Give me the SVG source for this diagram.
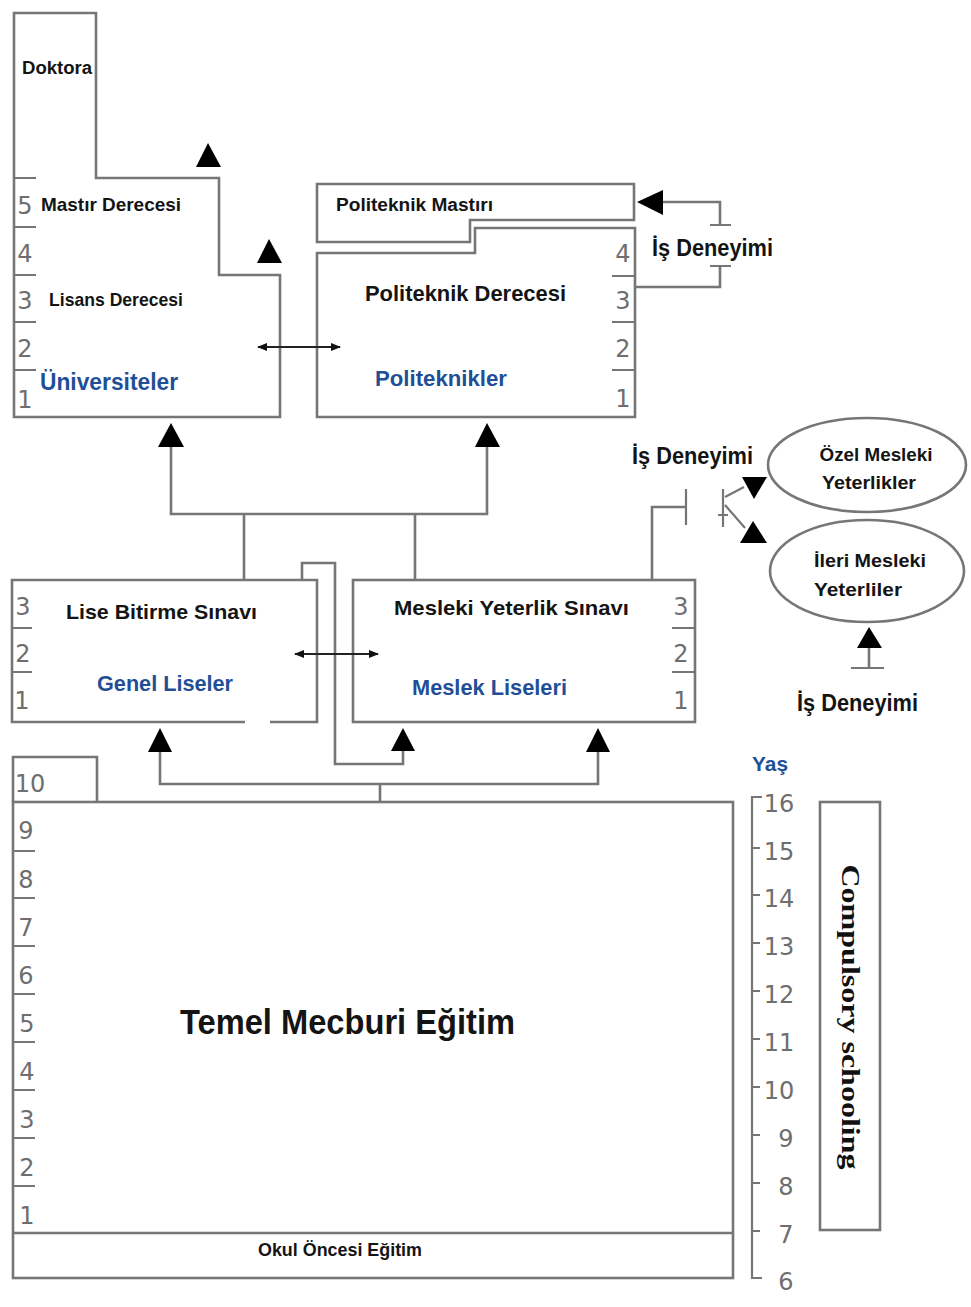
<svg xmlns="http://www.w3.org/2000/svg" width="971" height="1307" viewBox="0 0 971 1307">
<style>
.ln{fill:none;stroke:#767676;stroke-width:2.6;stroke-linejoin:miter}
.tk{fill:none;stroke:#767676;stroke-width:2.2}
.dk{fill:none;stroke:#222;stroke-width:2}
.tri{fill:#000}
.t{font-family:'Liberation Sans Narrow','Liberation Sans',Arial,sans-serif;font-weight:bold;fill:#141414}
.b{font-family:'Liberation Sans Narrow','Liberation Sans',Arial,sans-serif;font-weight:bold;fill:#1f4f96}
.n{font-family:'DejaVu Sans',Verdana,sans-serif;fill:#6e6e6e;font-size:24px;text-anchor:middle}
.s{font-family:'Liberation Serif','Times New Roman',serif;font-weight:bold;fill:#111}
</style>
<defs>
<marker id="ah" viewBox="0 0 10 10" refX="9" refY="5" markerWidth="5" markerHeight="5" orient="auto-start-reverse">
<path d="M0,1 L10,5 L0,9 Z" fill="#111"/>
</marker>
</defs>
<rect width="971" height="1307" fill="#fff"/>

<g id="universiteler">
<path class="ln" d="M14,13 H96 V178 H219 V275 H280 V417 H14 Z"/>
<path class="tk" d="M14,178 H36 M14,227 H36 M14,275 H36 M14,322 H36 M14,370 H36"/>
<text class="n" x="25" y="214">5</text>
<text class="n" x="25" y="262">4</text>
<text class="n" x="25" y="309">3</text>
<text class="n" x="25" y="357">2</text>
<text class="n" x="25" y="408">1</text>
<text class="t" x="22" y="74" font-size="18" textLength="70" lengthAdjust="spacingAndGlyphs">Doktora</text>
<text class="t" x="41" y="211" font-size="19" textLength="140" lengthAdjust="spacingAndGlyphs">Mastır Derecesi</text>
<text class="t" x="49" y="306" font-size="19" textLength="134" lengthAdjust="spacingAndGlyphs">Lisans Derecesi</text>
<text class="b" x="40" y="390" font-size="23" textLength="138" lengthAdjust="spacingAndGlyphs">Üniversiteler</text>
</g>

<g id="politeknik-mastiri">
<path class="ln" d="M317,184 H634 V220 H470 V242 H317 Z"/>
<text class="t" x="336" y="211" font-size="18" textLength="157" lengthAdjust="spacingAndGlyphs">Politeknik Mastırı</text>
</g>

<g id="politeknikler">
<path class="ln" d="M317,253 H475 V228 H635 V417 H317 Z"/>
<path class="tk" d="M612,276 H634 M612,322 H634 M612,370 H634"/>
<text class="n" x="623" y="262">4</text>
<text class="n" x="623" y="309">3</text>
<text class="n" x="623" y="357">2</text>
<text class="n" x="623" y="407">1</text>
<text class="t" x="365" y="301" font-size="22" textLength="201" lengthAdjust="spacingAndGlyphs">Politeknik Derecesi</text>
<text class="b" x="375" y="386" font-size="22" textLength="132" lengthAdjust="spacingAndGlyphs">Politeknikler</text>
</g>

<g id="genel-liseler">
<path class="ln" d="M245,722 H12 V580 H317 V722 H270"/>
<path class="tk" d="M12,628 H32 M12,672 H32"/>
<text class="n" x="23" y="615">3</text>
<text class="n" x="23" y="662">2</text>
<text class="n" x="22" y="709">1</text>
<text class="t" x="66" y="619" font-size="21" textLength="191" lengthAdjust="spacingAndGlyphs">Lise Bitirme Sınavı</text>
<text class="b" x="97" y="691" font-size="22" textLength="136" lengthAdjust="spacingAndGlyphs">Genel Liseler</text>
</g>

<g id="meslek-liseleri">
<rect class="ln" x="353" y="580" width="342" height="142"/>
<path class="tk" d="M672,628 H694 M672,672 H694"/>
<text class="n" x="681" y="615">3</text>
<text class="n" x="681" y="662">2</text>
<text class="n" x="681" y="709">1</text>
<text class="t" x="394" y="615" font-size="21" textLength="235" lengthAdjust="spacingAndGlyphs">Mesleki Yeterlik Sınavı</text>
<text class="b" x="412" y="695" font-size="22" textLength="155" lengthAdjust="spacingAndGlyphs">Meslek Liseleri</text>
</g>

<g id="ozel-mesleki">
<ellipse class="ln" cx="867" cy="465" rx="99" ry="47"/>
<text class="t" x="876" y="461" font-size="19" text-anchor="middle" textLength="113" lengthAdjust="spacingAndGlyphs">Özel Mesleki</text>
<text class="t" x="869" y="489" font-size="19" text-anchor="middle" textLength="94" lengthAdjust="spacingAndGlyphs">Yeterlikler</text>
</g>

<g id="ileri-mesleki">
<ellipse class="ln" cx="867" cy="571" rx="97" ry="51"/>
<text class="t" x="870" y="567" font-size="19" text-anchor="middle" textLength="112" lengthAdjust="spacingAndGlyphs">İleri Mesleki</text>
<text class="t" x="858" y="596" font-size="19" text-anchor="middle" textLength="88" lengthAdjust="spacingAndGlyphs">Yeterliler</text>
</g>

<g id="temel-mecburi">
<path class="ln" d="M13,802 V757 H97 V802"/>
<rect class="ln" x="13" y="802" width="720" height="476"/>
<path class="tk" d="M13,851 H35 M13,898 H35 M13,946 H35 M13,994 H35 M13,1042 H35 M13,1090 H35 M13,1138 H35 M13,1186 H35"/>
<text class="n" x="30" y="792">10</text>
<text class="n" x="26" y="839">9</text>
<text class="n" x="26" y="888">8</text>
<text class="n" x="26" y="936">7</text>
<text class="n" x="26" y="984">6</text>
<text class="n" x="27" y="1032">5</text>
<text class="n" x="27" y="1080">4</text>
<text class="n" x="27" y="1128">3</text>
<text class="n" x="27" y="1176">2</text>
<text class="n" x="27" y="1224">1</text>
<text class="t" x="180" y="1034" font-size="35" textLength="335" lengthAdjust="spacingAndGlyphs">Temel Mecburi Eğitim</text>
</g>

<g id="okul-oncesi">
<path class="ln" d="M13,1233 H733"/>
<text class="t" x="258" y="1256" font-size="18" textLength="164" lengthAdjust="spacingAndGlyphs">Okul Öncesi Eğitim</text>
</g>

<g id="yas-axis">
<text class="b" x="752" y="771" font-size="21" textLength="36" lengthAdjust="spacingAndGlyphs">Yaş</text>
<path class="tk" d="M762,797 H752 V1278 H762 M752,848 H760 M752,895 H760 M752,943 H760 M752,991 H760 M752,1039 H760 M752,1087 H760 M752,1135 H760 M752,1183 H760 M752,1231 H760"/>
<text class="n" x="779" y="812" font-size="25">16</text>
<text class="n" x="779" y="860" font-size="25">15</text>
<text class="n" x="779" y="907" font-size="25">14</text>
<text class="n" x="779" y="955" font-size="25">13</text>
<text class="n" x="779" y="1003" font-size="25">12</text>
<text class="n" x="779" y="1051" font-size="25">11</text>
<text class="n" x="779" y="1099" font-size="25">10</text>
<text class="n" x="786" y="1147" font-size="25">9</text>
<text class="n" x="786" y="1195" font-size="25">8</text>
<text class="n" x="786" y="1243" font-size="25">7</text>
<text class="n" x="786" y="1290" font-size="25">6</text>
</g>

<g id="compulsory">
<rect class="ln" x="820" y="802" width="60" height="428"/>
<text class="s" x="850" y="1017" font-size="26" text-anchor="middle" dominant-baseline="central" transform="rotate(90 850 1017)" textLength="305" lengthAdjust="spacingAndGlyphs">Compulsory schooling</text>
</g>

<g id="labels">
<text class="t" x="652" y="256" font-size="23" textLength="121" lengthAdjust="spacingAndGlyphs">İş Deneyimi</text>
<text class="t" x="632" y="464" font-size="23" textLength="121" lengthAdjust="spacingAndGlyphs">İş Deneyimi</text>
<text class="t" x="797" y="711" font-size="23" textLength="121" lengthAdjust="spacingAndGlyphs">İş Deneyimi</text>
</g>

<g id="connectors">
<polygon class="tri" points="208,143 196,167 221,167"/>
<polygon class="tri" points="269,239 257,263 282,263"/>
<line class="dk" x1="258" y1="347" x2="340" y2="347" marker-start="url(#ah)" marker-end="url(#ah)"/>
<path class="ln" d="M663,202 H720 V225 M720,266 V287 H636"/>
<path class="tk" d="M710,225 H731 M710,266 H731"/>
<polygon class="tri" points="637,202 663,190 663,215"/>
<polygon class="tri" points="171,423 158,447 184,447"/>
<polygon class="tri" points="487,423 475,447 500,447"/>
<path class="ln" d="M171,447 V514 H487 V447 M244,514 V580 M415,514 V580"/>
<path class="ln" d="M302,580 V563 H335 V764 H403 V751"/>
<polygon class="tri" points="403,728 391,751 415,751"/>
<line class="dk" x1="295" y1="654" x2="378" y2="654" marker-start="url(#ah)" marker-end="url(#ah)"/>
<polygon class="tri" points="160,728 148,752 172,752"/>
<polygon class="tri" points="598,728 586,752 610,752"/>
<path class="ln" d="M160,752 V784 H598 V752 M380,784 V802"/>
<path class="ln" d="M652,580 V507 H686"/>
<path class="tk" d="M686,489 V525 M723,489 V527 M718,515 H728 M725,497 L744,487 M725,505 L745,528"/>
<polygon class="tri" points="742,477 767,477 754,499"/>
<polygon class="tri" points="753,521 740,543 767,543"/>
<polygon class="tri" points="869,627 857,648 882,648"/>
<path class="ln" d="M869,648 V668"/>
<path class="tk" d="M851,668 H884"/>
</g>
</svg>
